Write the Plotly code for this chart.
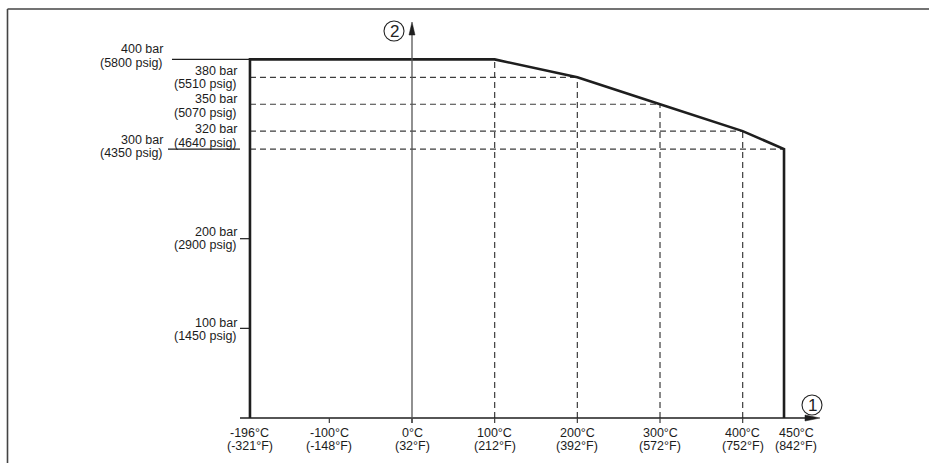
import plotly.graph_objects as go

# Courbe limite pression / température
temps = [-196, 100, 200, 300, 400, 450]
pressures = [400, 400, 380, 350, 320, 300]

# Graduations axe X
xtick_vals = [-196, -100, 0, 100, 200, 300, 400, 450]
xtick_c = ["-196°C", "-100°C", "0°C", "100°C", "200°C", "300°C", "400°C", "450°C"]
xtick_f = ["(-321°F)", "(-148°F)", "(32°F)", "(212°F)", "(392°F)", "(572°F)", "(752°F)", "(842°F)"]

# Graduations axe Y
ytick_vals = [400, 380, 350, 320, 300, 200, 100]
ytick_bar = ["400 bar", "380 bar", "350 bar", "320 bar", "300 bar", "200 bar", "100 bar"]
ytick_psig = ["(5800 psig)", "(5510 psig)", "(5070 psig)", "(4640 psig)",
              "(4350 psig)", "(2900 psig)", "(1450 psig)"]

W, H = 929, 463
SX = 0.8267   # px par °C
SY = 0.8965   # px par bar
X0_PX, Y0_PX = 412, 418
xmin = -X0_PX / SX
xmax = xmin + W / SX
ymin = -(H - Y0_PX) / SY
ymax = ymin + H / SY

INK = "#1e1e1e"
DASH = "#3c3c3c"
FONT = dict(family="Liberation Sans, Arial, sans-serif", size=12.5, color="#1c1c1c")

fig = go.Figure()

# lignes pointillées de repère
gx, gy = [], []
for t, p in zip(temps[1:], pressures[1:]):
    if t != temps[-1]:
        gx += [t, t, None]
        gy += [0, p, None]
    if p != pressures[0]:
        gx += [temps[0], t, None]
        gy += [p, p, None]
fig.add_trace(go.Scatter(x=gx, y=gy, mode="lines", hoverinfo="skip",
                         line=dict(color=DASH, width=1.2, dash="6px,4px")))

# courbe limite
fig.add_trace(go.Scatter(x=[temps[0]] + temps + [temps[-1]],
                         y=[0] + pressures + [0], mode="lines",
                         line=dict(color=INK, width=2.6), hoverinfo="skip"))

shapes = []
# cadre
shapes.append(dict(type="line", xref="paper", yref="paper", x0=7.5 / W, x1=1,
                   y0=1 - 9 / H, y1=1 - 9 / H, line=dict(color="#444", width=1.6)))
shapes.append(dict(type="line", xref="paper", yref="paper", x0=7.5 / W, x1=7.5 / W,
                   y0=0, y1=1 - 9 / H, line=dict(color="#444", width=1.6)))

# axe X avec flèche
x_end = (820 - X0_PX) / SX
shapes.append(dict(type="line", xref="x", yref="y", xsizemode="pixel", xanchor=temps[0],
                   x0=-10, x1=820 - (X0_PX + temps[0] * SX) - 10, y0=0, y1=0,
                   line=dict(color=INK, width=1.3)))
shapes.append(dict(type="path", xref="x", yref="y", xsizemode="pixel", ysizemode="pixel",
                   xanchor=x_end, yanchor=0, path="M0,0 L-15,3 L-15,-3 Z",
                   fillcolor=INK, line=dict(color=INK, width=0.5)))
# axe Y avec flèche
y_end = (Y0_PX - 22) / SY
shapes.append(dict(type="line", xref="x", yref="y", ysizemode="pixel", yanchor=0,
                   x0=0, x1=0, y0=-5, y1=Y0_PX - 22 - 10,
                   line=dict(color="#555", width=1.3)))
shapes.append(dict(type="path", xref="x", yref="y", xsizemode="pixel", ysizemode="pixel",
                   xanchor=0, yanchor=y_end, path="M0,0 L-3,-13 L3,-13 Z",
                   fillcolor=INK, line=dict(color=INK, width=0.5)))

# petites graduations sous l'axe X
for v in xtick_vals[1:-1]:
    shapes.append(dict(type="line", xref="x", yref="y", ysizemode="pixel", yanchor=0,
                       x0=v, x1=v, y0=0, y1=-5, line=dict(color=DASH, width=1.2)))

# graduations Y
for v in ytick_vals:
    if v in (400, 300):
        x0, x1 = (-78, 0) if v == 400 else (-82, -10)
    elif v in (200, 100):
        x0, x1 = -10, 0
    else:
        continue
    shapes.append(dict(type="line", xref="x", yref="y", xsizemode="pixel",
                       xanchor=temps[0], x0=x0, x1=x1, y0=v, y1=v,
                       line=dict(color=INK, width=1.2)))

annotations = []
for v, c, f in zip(xtick_vals, xtick_c, xtick_f):
    dx = 12 if v == 450 else 0
    annotations.append(dict(x=v, y=0, text=c, showarrow=False, xshift=dx, yshift=-15,
                            xanchor="center", yanchor="middle", font=FONT))
    annotations.append(dict(x=v, y=0, text=f, showarrow=False, xshift=dx, yshift=-27.7,
                            xanchor="center", yanchor="middle", font=FONT))

# décalages (px) des étiquettes Y
y_shift = {400: (10.4, -3.3), 380: (6.6, -6.7), 350: (4.9, -9.1), 320: (1.8, -11.6),
           300: (9, -4.3), 200: (7, -6.3), 100: (5, -7.7)}
for v, b, p in zip(ytick_vals, ytick_bar, ytick_psig):
    dx = -85 if v in (400, 300) else -11
    s1, s2 = y_shift[v]
    annotations.append(dict(x=temps[0], y=v, text=b, showarrow=False, xshift=dx, yshift=s1,
                            xanchor="right", yanchor="middle", align="right", font=FONT))
    annotations.append(dict(x=temps[0], y=v, text=p, showarrow=False, xshift=dx, yshift=s2,
                            xanchor="right", yanchor="middle", align="right", font=FONT))

# repères ① (axe X) et ② (axe Y) : cercle + chiffre
CIRC = dict(family="Liberation Sans, Arial, sans-serif", size=17, color="#222")
for num, ax_x, ax_y, dx, dy in [("2", 0, y_end, -18, -9), ("1", x_end, 0, -8, 13)]:
    shapes.append(dict(type="circle", xref="x", yref="y", xsizemode="pixel", ysizemode="pixel",
                       xanchor=ax_x, yanchor=ax_y, x0=dx - 10, x1=dx + 10, y0=dy - 10, y1=dy + 10,
                       line=dict(color="#222", width=1.1)))
    annotations.append(dict(x=ax_x, y=ax_y, text=num, showarrow=False, xshift=dx, yshift=dy,
                            xanchor="center", yanchor="middle", font=CIRC))

fig.update_layout(
    width=W, height=H, autosize=False,
    margin=dict(l=0, r=0, t=0, b=0),
    paper_bgcolor="white", plot_bgcolor="white",
    showlegend=False,
    xaxis=dict(range=[xmin, xmax], visible=False, fixedrange=True),
    yaxis=dict(range=[ymin, ymax], visible=False, fixedrange=True),
    shapes=shapes, annotations=annotations,
)

fig.write_html("out.html", config={"displayModeBar": False},
               post_script="document.body.style.margin='0';")
